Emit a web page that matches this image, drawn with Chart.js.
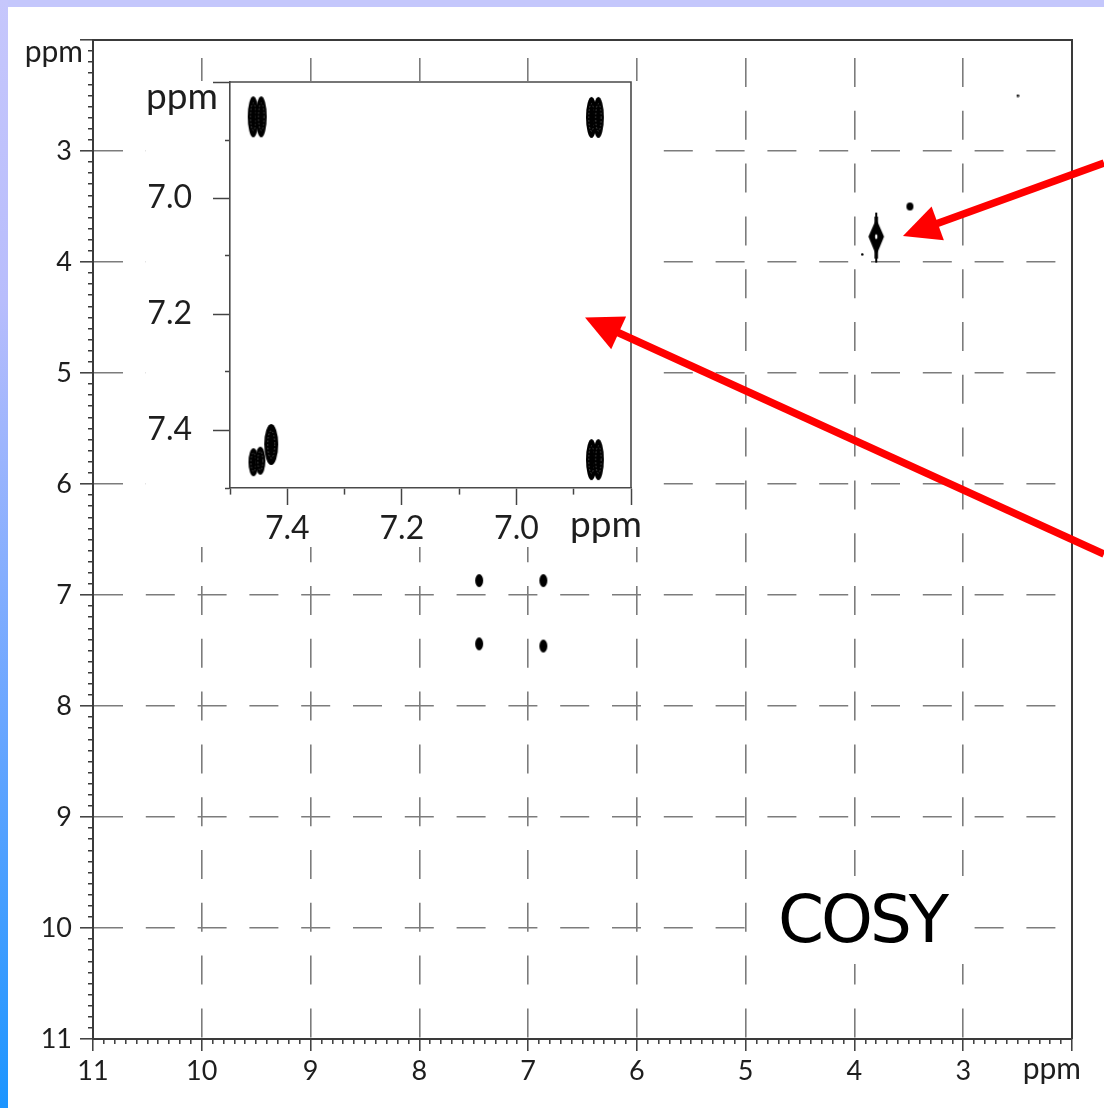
<!DOCTYPE html>
<html><head><meta charset="utf-8">
<script src="https://cdn.jsdelivr.net/npm/chart.js@4.4.0/dist/chart.umd.min.js"></script>
<style>
html,body{margin:0;padding:0;width:1104px;height:1108px;overflow:hidden;background:#fff;}
#frameTop{position:absolute;left:0;top:0;width:1104px;height:7px;background:#c4c7fc;}
#frameLeft{position:absolute;left:0;top:0;width:8px;height:1108px;background:linear-gradient(to bottom,#c6c7fc 0%,#b8bdfc 27%,#6aa6ff 65%,#1c95ff 100%);}
#main{position:absolute;left:0;top:0;}
#insetBox{position:absolute;left:146px;top:81px;width:500px;height:466px;background:#fff;}
#inset{position:absolute;left:0;top:-5px;}
#cosy{position:absolute;left:752px;top:876px;width:220px;height:88px;background:#fff;
  font-family:"Comic Sans MS","DejaVu Sans",sans-serif;font-size:66px;line-height:88px;letter-spacing:-3px;
  color:#000;text-align:center;}
#overlay{position:absolute;left:0;top:0;pointer-events:none;}
</style></head>
<body>
<div id="frameTop"></div><div id="frameLeft"></div>
<canvas id="main" width="1104" height="1108"></canvas>
<div id="insetBox"><canvas id="inset" width="500" height="471"></canvas></div>
<div id="cosy">COSY</div>
<canvas id="overlay" width="1104" height="1108"></canvas>
<script>
// ---------- data (ppm) ----------
// main spectrum axis ranges and tick labels
const mainRange = [2, 11];
const mainXTickLabels = ['11','10','9','8','7','6','5','4','3'];
const mainYTickLabels = ['3','4','5','6','7','8','9','10','11'];
const axisUnit = 'ppm';
// main spectrum cross peaks
const aromaticX = [7.45, 6.86, 7.45, 6.86];
const aromaticY = [6.87, 6.87, 7.44, 7.46];
const aliphaticX = [3.80];
const aliphaticY = [3.78];
const weakX = [3.49];
const weakY = [3.50];
const noiseX = [2.50, 3.93];
const noiseY = [2.50, 3.93];
// inset (expanded aromatic region)
const insetRange = [6.8, 7.5];
const insetXTickLabels = ['7.4','7.2','7.0'];
const insetYTickLabels = ['7.0','7.2','7.4'];
const insetDoubletX = [7.4595, 7.4455, 6.869, 6.857, 6.869, 6.857];
const insetDoubletY = [6.860, 6.860, 6.861, 6.861, 7.451, 7.451];
const insetSmallX = [7.459, 7.447];
const insetSmallY = [7.4555, 7.453];
const insetStrongX = [7.428];
const insetStrongY = [7.425];
// annotation arrows (main ppm coordinates): tail -> tip
const arrowTailX = [1.706, 1.706];
const arrowTailY = [3.108, 6.631];
const arrowTipX  = [3.554, 6.477];
const arrowTipY  = [3.766, 4.50];

// ---------- helpers ----------
const FONT = 'Lato, "Open Sans", "DejaVu Sans", sans-serif';
const TEXT = '#1e1e1e';
function tenths(min, max){ const a=[]; for(let i=Math.round(min*10);i<=Math.round(max*10);i++) a.push({value:i/10}); return a; }
function isInt(v){ return Math.abs(v-Math.round(v))<1e-6; }
function isEvenTenth(v){ return Math.round(v*10)%2===0; }
function pts(xs, ys){ return xs.map((x,i)=>({x:x,y:ys[i]})); }
function labelFrom(list, decimals){
  return v => {
    const t = Math.round(v*10);
    if (decimals===0 && t%10!==0) return '';
    const s = (t/10).toFixed(decimals);
    return list.includes(s) ? s : '';
  };
}
function zeroPad(s){ s.paddingTop=0; s.paddingBottom=0; s.paddingLeft=0; s.paddingRight=0; }

function ellipseImg(w,h,inner){
  const c=document.createElement('canvas'); c.width=w+2; c.height=h+2;
  const g=c.getContext('2d'); g.fillStyle='#000'; g.beginPath();
  g.ellipse((w+2)/2,(h+2)/2,w/2,h/2,0,0,Math.PI*2); g.fill();
  if(inner){ g.strokeStyle='rgba(120,120,120,0.8)'; g.lineWidth=0.8; g.setLineDash([1.5,2]);
    g.beginPath(); g.ellipse((w+2)/2,(h+2)/2,w/4,h/3,0,0,Math.PI*2); g.stroke(); }
  return c;
}
function diamondImg(){
  const w=18,h=52,c=document.createElement('canvas'); c.width=w; c.height=h;
  const g=c.getContext('2d'); g.strokeStyle='#000'; g.lineWidth=2;
  g.beginPath(); g.moveTo(w/2,1); g.lineTo(w/2,h-1); g.stroke();
  g.lineWidth=3.5; g.beginPath(); g.moveTo(w/2,5); g.lineTo(w/2,h-5); g.stroke();
  g.fillStyle='#000'; g.beginPath(); g.moveTo(w/2,9); g.lineTo(w-2,h/2-1); g.lineTo(w/2,h-10); g.lineTo(2,h/2-1); g.closePath(); g.fill();
  g.lineWidth=1.5; g.stroke();
  g.fillStyle='#fff'; g.beginPath(); g.ellipse(w/2,h/2-1,1.2,2.6,0,0,Math.PI*2); g.fill();
  return c;
}

// frame + unit label plugin
function framePlugin(opt){
  return { id:'frame'+opt.id, afterDraw(chart){
    const {ctx, chartArea:a, scales} = chart;
    ctx.save();
    ctx.strokeStyle=opt.color; ctx.lineWidth=opt.width;
    ctx.beginPath(); ctx.moveTo(a.left, a.top); ctx.lineTo(a.right, a.top); ctx.lineTo(a.right, a.bottom); ctx.stroke();
    ctx.fillStyle=TEXT; ctx.font=opt.font; ctx.textAlign='right'; ctx.textBaseline='alphabetic';
    const yTop = scales.y.getPixelForValue(scales.y.min);
    ctx.fillText(axisUnit, a.left-opt.yUnitDx, yTop+opt.yUnitDy);
    const xEnd = scales.x.getPixelForValue(scales.x.min);
    ctx.fillText(axisUnit, xEnd+opt.xUnitDx, a.bottom+opt.xUnitDy);
    ctx.restore();
  }};
}

const arrowPlugin = { id:'arrows', afterDraw(chart){
  const c=document.getElementById('overlay').getContext('2d');
  c.clearRect(0,0,1104,1108);
  const sx=chart.scales.x, sy=chart.scales.y;
  c.strokeStyle='#ff0000'; c.fillStyle='#ff0000'; c.lineWidth=7.5; c.lineCap='butt';
  for(let i=0;i<arrowTipX.length;i++){
    const x0=sx.getPixelForValue(arrowTailX[i]), y0=sy.getPixelForValue(arrowTailY[i]);
    const x1=sx.getPixelForValue(arrowTipX[i]), y1=sy.getPixelForValue(arrowTipY[i]);
    const ang=Math.atan2(y1-y0,x1-x0), L=37, W=18;
    const bx=x1-L*Math.cos(ang), by=y1-L*Math.sin(ang);
    c.beginPath(); c.moveTo(x0,y0); c.lineTo(bx+2*Math.cos(ang),by+2*Math.sin(ang)); c.stroke();
    c.beginPath(); c.moveTo(x1,y1);
    c.lineTo(bx+W*Math.sin(ang), by-W*Math.cos(ang));
    c.lineTo(bx-W*Math.sin(ang), by+W*Math.cos(ang));
    c.closePath(); c.fill();
  }
}};

// ---------- main chart ----------
const mainFont = {family:FONT, size:27};
new Chart(document.getElementById('main'), {
  type:'scatter',
  data:{ datasets:[
    {data:pts(aromaticX,aromaticY), pointStyle:ellipseImg(8,13,false), pointRadius:5},
    {data:pts(aliphaticX,aliphaticY), pointStyle:diamondImg(), pointRadius:5},
    {data:pts(weakX,weakY), pointStyle:ellipseImg(7,8,false), pointRadius:5},
    {data:pts(noiseX,noiseY), pointStyle:ellipseImg(2.5,2.5,false), pointRadius:5}
  ]},
  options:{
    responsive:false, animation:false, events:[],
    layout:{padding:{left:0, top:40, right:32, bottom:0}},
    plugins:{legend:{display:false}, tooltip:{enabled:false}},
    scales:{
      x:{type:'linear', min:mainRange[0], max:mainRange[1], reverse:true, position:'bottom',
        afterBuildTicks:s=>{s.ticks=tenths(mainRange[0],mainRange[1]);},
        afterFit:s=>{s.height=69; zeroPad(s);},
        ticks:{autoSkip:false, maxRotation:0, minRotation:0, padding:4, color:TEXT, font:mainFont,
          callback:labelFrom(mainXTickLabels,0)},
        grid:{drawOnChartArea:true,
          color:c=>(isInt(c.tick.value)&&c.tick.value>mainRange[0]&&c.tick.value<mainRange[1])?'#7c7c7c':'rgba(0,0,0,0)',
          lineWidth:1.6, tickLength:12, tickColor:'#3a3a3a', tickWidth:1.5,
          tickBorderDash:c=>isInt(c.tick.value)?[]:[4,100]},
        border:{display:true, color:'#3a3a3a', width:2, dash:[29,23.8], dashOffset:34.8}
      },
      y:{type:'linear', min:mainRange[0], max:mainRange[1], reverse:true, position:'left',
        afterBuildTicks:s=>{s.ticks=tenths(mainRange[0],mainRange[1]);},
        afterFit:s=>{s.width=93; zeroPad(s);},
        ticks:{autoSkip:false, padding:8, color:TEXT, font:mainFont, callback:labelFrom(mainYTickLabels,0)},
        grid:{drawOnChartArea:true,
          color:c=>(isInt(c.tick.value)&&c.tick.value>mainRange[0]&&c.tick.value<mainRange[1])?'#7c7c7c':'rgba(0,0,0,0)',
          lineWidth:1.6, tickLength:13, tickColor:'#3a3a3a', tickWidth:1.5,
          tickBorderDash:c=>isInt(c.tick.value)?[]:[0,8,5]},
        border:{display:true, color:'#3a3a3a', width:2, dash:[29,22.8], dashOffset:0}
      }
    }
  },
  plugins:[framePlugin({id:'m', color:'#3a3a3a', width:2, font:'30px '+FONT, yUnitDx:10, yUnitDy:22, xUnitDx:9, xUnitDy:40}), arrowPlugin]
});

// ---------- inset chart ----------
const insetFont = {family:FONT, size:32};
new Chart(document.getElementById('inset'), {
  type:'scatter',
  data:{ datasets:[
    {data:pts(insetDoubletX,insetDoubletY), pointStyle:ellipseImg(11,41,true), pointRadius:5},
    {data:pts(insetSmallX,insetSmallY), pointStyle:ellipseImg(10,28,true), pointRadius:5},
    {data:pts(insetStrongX,insetStrongY), pointStyle:ellipseImg(14,41,true), pointRadius:5}
  ]},
  options:{
    responsive:false, animation:false, events:[],
    layout:{padding:{left:0, top:1, right:15, bottom:0}},
    plugins:{legend:{display:false}, tooltip:{enabled:false}},
    scales:{
      x:{type:'linear', min:insetRange[0], max:insetRange[1], reverse:true, position:'bottom',
        afterBuildTicks:s=>{s.ticks=tenths(insetRange[0],insetRange[1]);},
        afterFit:s=>{s.height=59; zeroPad(s);},
        ticks:{autoSkip:false, maxRotation:0, minRotation:0, padding:4, color:TEXT, font:insetFont,
          callback:labelFrom(insetXTickLabels,1)},
        grid:{drawOnChartArea:false, tickLength:17, tickColor:'#444', tickWidth:1.5,
          tickBorderDash:c=>isEvenTenth(c.tick.value)?[]:[6,100]},
        border:{display:true, color:'#4a4a4a', width:1.6}
      },
      y:{type:'linear', min:insetRange[0], max:insetRange[1], reverse:true, position:'left',
        afterBuildTicks:s=>{s.ticks=tenths(insetRange[0],insetRange[1]);},
        afterFit:s=>{s.width=84; zeroPad(s);},
        ticks:{autoSkip:false, padding:21, color:TEXT, font:insetFont, callback:labelFrom(insetYTickLabels,1)},
        grid:{drawOnChartArea:false, tickLength:17, tickColor:'#444', tickWidth:1.5,
          tickBorderDash:c=>isEvenTenth(c.tick.value)?[]:[0,12,5]},
        border:{display:true, color:'#4a4a4a', width:1.6}
      }
    }
  },
  plugins:[framePlugin({id:'i', color:'#4a4a4a', width:1.6, font:'37px '+FONT, yUnitDx:12, yUnitDy:27, xUnitDx:11, xUnitDy:49})]
});
</script>
</body></html>
